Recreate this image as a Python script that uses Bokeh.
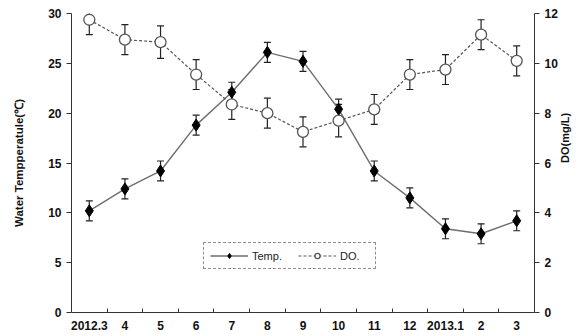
import math
from bokeh.plotting import figure
from bokeh.models import (Range1d, LinearAxis, FixedTicker, Whisker, TeeHead,
                          ColumnDataSource, Legend, LegendItem)
from bokeh.embed import file_html
from bokeh.resources import INLINE

months = ["2012.3", "4", "5", "6", "7", "8", "9", "10", "11", "12", "2013.1", "2", "3"]
temp = [10.2, 12.4, 14.2, 18.8, 22.1, 26.1, 25.2, 20.4, 14.2, 11.5, 8.4, 7.9, 9.2]
temp_err = [1.0, 1.0, 1.0, 1.0, 1.0, 1.0, 1.0, 1.0, 1.0, 1.0, 1.0, 1.0, 1.0]
do = [11.75, 10.95, 10.85, 9.55, 8.35, 8.0, 7.25, 7.7, 8.15, 9.55, 9.75, 11.15, 10.1]
do_err = [0.6, 0.6, 0.65, 0.6, 0.6, 0.6, 0.6, 0.65, 0.6, 0.6, 0.6, 0.6, 0.6]

left_ticks = [0, 5, 10, 15, 20, 25, 30]
right_ticks = [0, 2, 4, 6, 8, 10, 12]

FONT = "Liberation Sans"
TXT = "#111111"
AX = "#333333"

xs = [i + 0.5 for i in range(len(months))]
bounds = [i for i in range(1, len(months))]

p = figure(width=579, height=336, output_backend="svg", toolbar_location=None,
           x_range=Range1d(0, len(months)), y_range=Range1d(0, 30),
           min_border_left=71, min_border_right=38, min_border_top=13, min_border_bottom=24)
p.extra_y_ranges = {"do": Range1d(0, 12)}
p.outline_line_color = None
p.xgrid.visible = False
p.ygrid.visible = False
p.background_fill_color = "white"
p.border_fill_color = "white"

# x axis
xa = p.xaxis[0]
xa.ticker = FixedTicker(ticks=xs, minor_ticks=bounds)
xa.major_label_overrides = {x: m for x, m in zip(xs, months)}
xa.major_tick_in = 0
xa.major_tick_out = 0
xa.minor_tick_in = 4
xa.minor_tick_out = 0
xa.minor_tick_line_color = AX
xa.axis_line_color = AX
xa.major_label_standoff = 8
xa.major_label_text_font = FONT
xa.major_label_text_font_style = "bold"
xa.major_label_text_font_size = "12px"
xa.major_label_text_color = TXT

# left axis
ya = p.yaxis[0]
ya.ticker = FixedTicker(ticks=left_ticks, minor_ticks=[])
ya.axis_label = "Water Tempperatule(℃)"
ya.major_tick_in = 0
ya.major_tick_out = 5
ya.major_tick_line_color = AX
ya.axis_line_color = AX
ya.major_label_standoff = 5
ya.axis_label_standoff = 20
ya.major_label_text_font = FONT
ya.major_label_text_font_style = "bold"
ya.major_label_text_font_size = "12px"
ya.major_label_text_color = TXT
ya.axis_label_text_font = FONT
ya.axis_label_text_font_style = "bold"
ya.axis_label_text_font_size = "11.5px"
ya.axis_label_text_color = TXT

ra = LinearAxis(y_range_name="do", ticker=FixedTicker(ticks=right_ticks, minor_ticks=[]),
                axis_label="DO(mg/L)")
ra.major_tick_in = 0
ra.major_tick_out = 5
ra.major_tick_line_color = AX
ra.axis_line_color = AX
ra.major_label_standoff = 5
ra.axis_label_standoff = 4
ra.axis_label_orientation = math.pi / 2
ra.major_label_text_font = FONT
ra.major_label_text_font_style = "bold"
ra.major_label_text_font_size = "12px"
ra.major_label_text_color = TXT
ra.axis_label_text_font = FONT
ra.axis_label_text_font_style = "bold"
ra.axis_label_text_font_size = "11px"
ra.axis_label_text_color = TXT
p.add_layout(ra, "right")

src_t = ColumnDataSource(dict(x=xs, y=temp,
                              lo=[v - e for v, e in zip(temp, temp_err)],
                              hi=[v + e for v, e in zip(temp, temp_err)]))
src_d = ColumnDataSource(dict(x=xs, y=do,
                              lo=[v - e for v, e in zip(do, do_err)],
                              hi=[v + e for v, e in zip(do, do_err)]))

def mk_whisker(src, **kw):
    return Whisker(source=src, base="x", upper="hi", lower="lo",
                   line_color="#222222", line_width=1.2,
                   upper_head=TeeHead(size=7, line_color="#222222", line_width=1.2),
                   lower_head=TeeHead(size=7, line_color="#222222", line_width=1.2), **kw)

p.add_layout(mk_whisker(src_t))
p.add_layout(mk_whisker(src_d, y_range_name="do"))

lt = p.line("x", "y", source=src_t, line_color="#6e6e6e", line_width=1.4)
ld = p.line("x", "y", source=src_d, y_range_name="do", line_color="#555555",
            line_width=1.2, line_dash="3 2")
st = p.scatter("x", "y", source=src_t, marker="diamond", size=12, fill_color="black",
               line_color="black")
sd = p.scatter("x", "y", source=src_d, y_range_name="do", marker="circle", size=11,
               fill_color="white", line_color="#555555", line_width=1.3)

legend = Legend(items=[LegendItem(label="Temp.", renderers=[lt, st]),
                       LegendItem(label="DO.", renderers=[ld, sd])],
                location=(132, 43), orientation="horizontal",
                border_line_color="#222222", border_line_dash="2 1", border_line_width=1,
                label_text_font=FONT, label_text_font_size="11px", label_text_color="#222222",
                glyph_width=38, glyph_height=13, label_height=13, label_width=29,
                label_standoff=4, spacing=16, padding=6, margin=0, background_fill_alpha=1)
p.add_layout(legend)

open("out.html", "w").write(file_html(p, INLINE))
